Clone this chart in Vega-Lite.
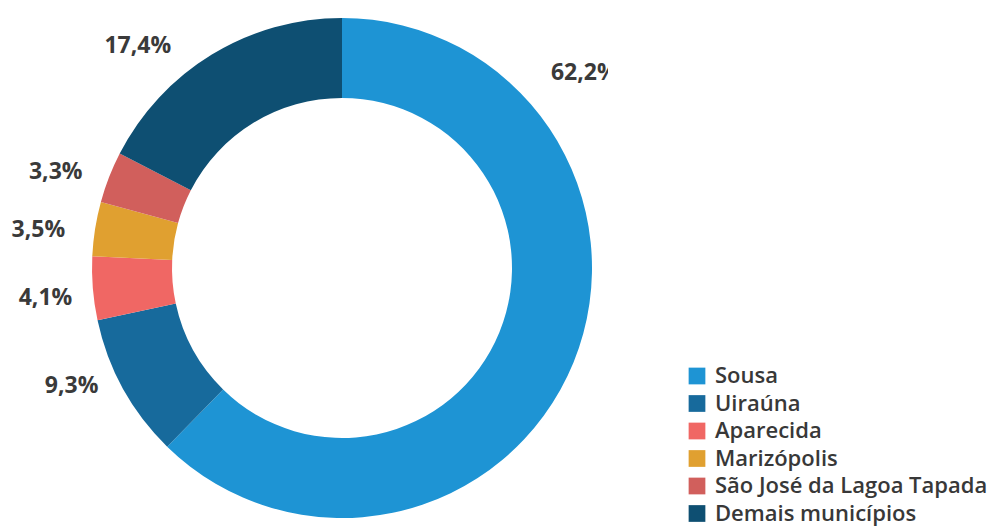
{
  "$schema": "https://vega.github.io/schema/vega-lite/v6.json",
  "width": 532,
  "height": 500,
  "autosize": {"type": "none"},
  "padding": {"left": 76, "top": 18, "right": 395, "bottom": 13},
  "background": "white",
  "view": {"stroke": null},
  "config": {"font": "Open Sans"},
  "data": {
    "values": [
      {"municipio": "Sousa", "pct": 62.2, "label": "62,2%", "ordem": 1},
      {"municipio": "Uiraúna", "pct": 9.3, "label": "9,3%", "ordem": 2},
      {"municipio": "Aparecida", "pct": 4.1, "label": "4,1%", "ordem": 3},
      {"municipio": "Marizópolis", "pct": 3.5, "label": "3,5%", "ordem": 4},
      {"municipio": "São José da Lagoa Tapada", "pct": 3.3, "label": "3,3%", "ordem": 5},
      {"municipio": "Demais municípios", "pct": 17.4, "label": "17,4%", "ordem": 6}
    ]
  },
  "encoding": {
    "theta": {"field": "pct", "type": "quantitative", "stack": true},
    "order": {"field": "ordem", "type": "quantitative"}
  },
  "layer": [
    {
      "mark": {"type": "arc", "radius": 250, "radius2": 170},
      "encoding": {
        "color": {
          "field": "municipio",
          "type": "nominal",
          "scale": {
            "domain": ["Sousa", "Uiraúna", "Aparecida", "Marizópolis", "São José da Lagoa Tapada", "Demais municípios"],
            "range": ["#1e94d4", "#176a9c", "#f06764", "#e0a030", "#d15f5c", "#0e4f72"]
          },
          "legend": {
            "orient": "none",
            "legendX": 610,
            "legendY": 347,
            "title": null,
            "symbolType": "square",
            "symbolSize": 280,
            "symbolStrokeWidth": 0,
            "labelFontSize": 22,
            "labelFontWeight": 600,
            "labelColor": "#383838",
            "labelOffset": 7,
            "rowPadding": 5.5,
            "labelLimit": 400
          }
        }
      }
    },
    {
      "mark": {"type": "text", "radius": 295, "thetaOffset": 0.092, "fontSize": 23, "fontWeight": "bold", "color": "#3a3a3a"},
      "encoding": {"text": {"condition": {"test": "datum.ordem == 2", "field": "label"}, "value": ""}}
    },
    {
      "mark": {"type": "text", "radius": 298, "thetaOffset": -0.019, "fontSize": 23, "fontWeight": "bold", "color": "#3a3a3a"},
      "encoding": {"text": {"condition": {"test": "datum.ordem == 3", "field": "label"}, "value": ""}}
    },
    {
      "mark": {"type": "text", "radius": 306, "thetaOffset": -0.033, "fontSize": 23, "fontWeight": "bold", "color": "#3a3a3a"},
      "encoding": {"text": {"condition": {"test": "datum.ordem == 4", "field": "label"}, "value": ""}}
    },
    {
      "mark": {"type": "text", "radius": 302, "thetaOffset": -0.047, "fontSize": 23, "fontWeight": "bold", "color": "#3a3a3a"},
      "encoding": {"text": {"condition": {"test": "datum.ordem == 5", "field": "label"}, "value": ""}}
    },
    {
      "mark": {"type": "text", "radius": 302, "thetaOffset": -0.195, "fontSize": 23, "fontWeight": "bold", "color": "#3a3a3a"},
      "encoding": {"text": {"condition": {"test": "datum.ordem == 6", "field": "label"}, "value": ""}}
    },
    {
      "mark": {"type": "text", "radius": 311, "thetaOffset": -1.065, "clip": true, "fontSize": 23, "fontWeight": "bold", "color": "#3a3a3a"},
      "encoding": {"text": {"condition": {"test": "datum.ordem == 1", "field": "label"}, "value": ""}}
    }
  ]
}
